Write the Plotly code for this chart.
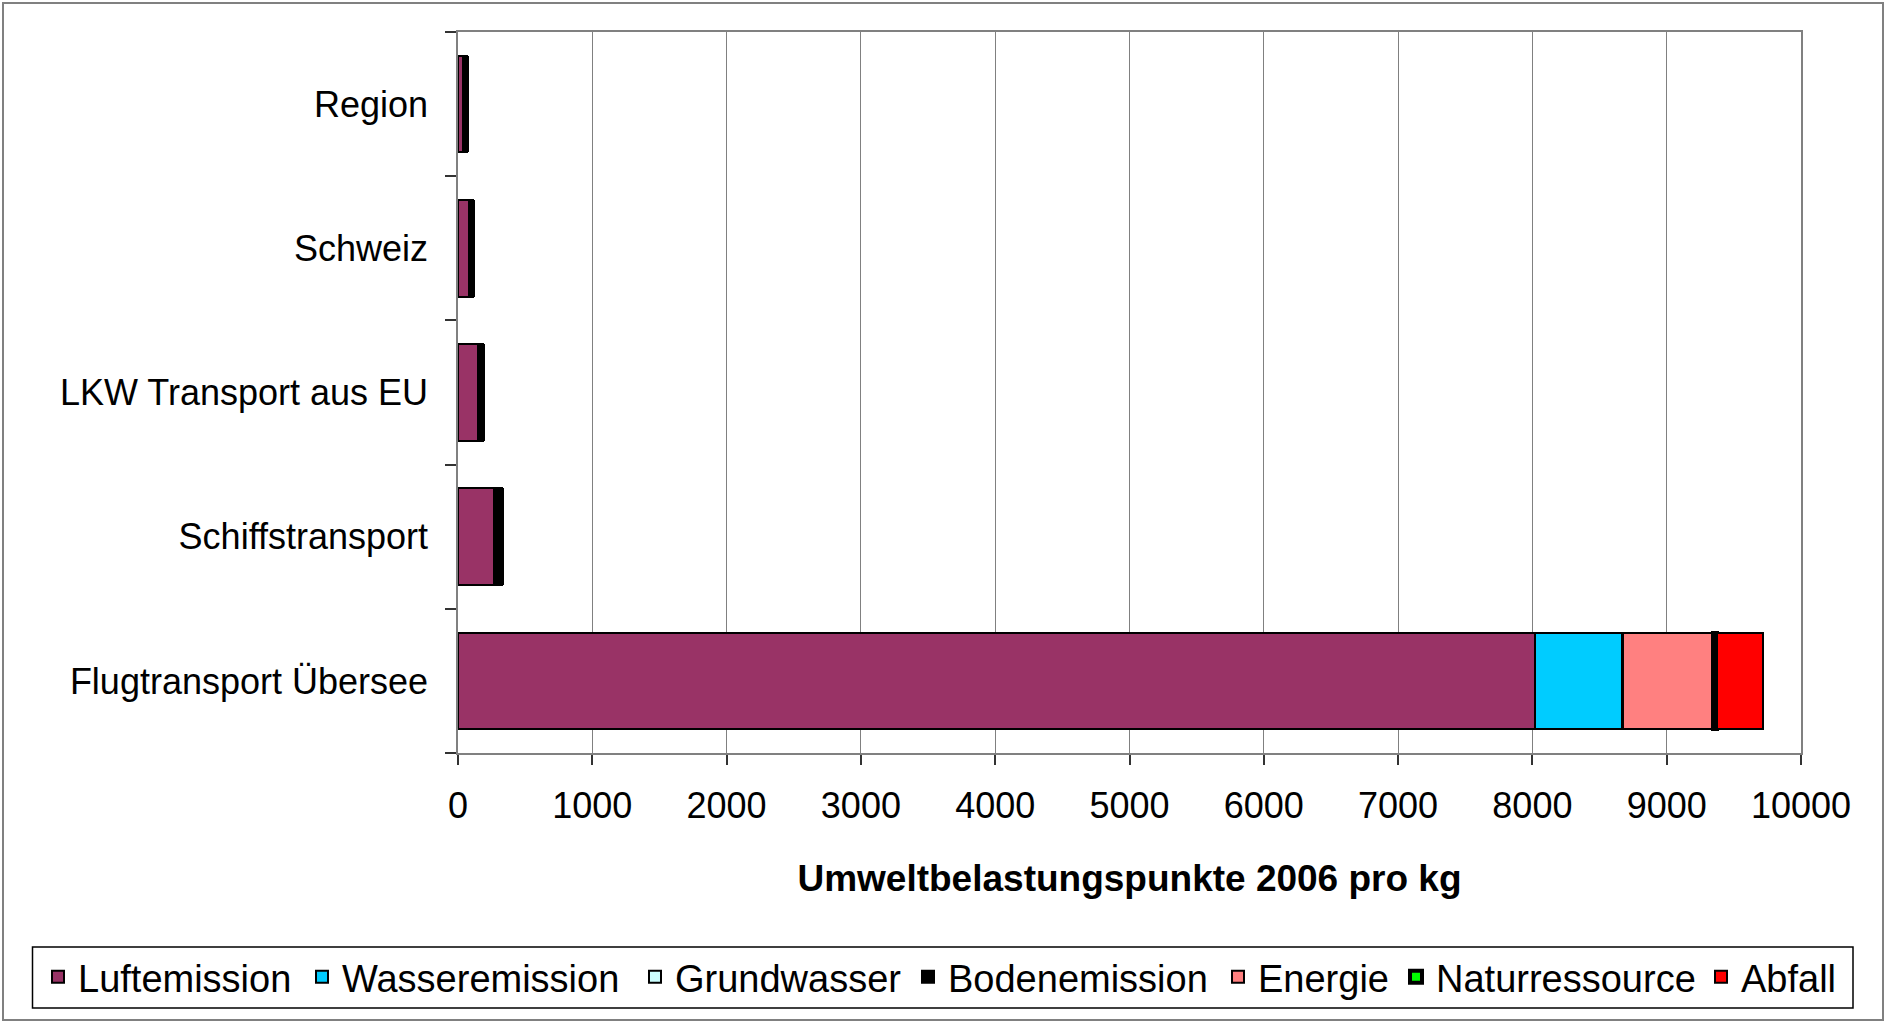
import plotly.graph_objects as go

categories = ["Flugtransport Übersee", "Schiffstransport", "LKW Transport aus EU", "Schweiz", "Region"]

luftemission = [8020, 270, 150, 80, 35]
wasseremission = [650, 0, 0, 0, 0]
grundwasser = [0, 0, 0, 0, 0]
bodenemission = [5, 55, 35, 35, 30]
energie = [670, 0, 0, 0, 0]
naturressource = [30, 0, 0, 0, 0]
abfall = [340, 0, 0, 0, 0]

series_names = ["Luftemission", "Wasseremission", "Grundwasser", "Bodenemission",
                "Energie", "Naturressource", "Abfall"]
series_values = [luftemission, wasseremission, grundwasser, bodenemission,
                 energie, naturressource, abfall]
series_colors = ["#993366", "#00CCFF", "#CCFFFF", "#000000", "#FF8080", "#00FF00", "#FF0000"]

x_ticks = [0, 1000, 2000, 3000, 4000, 5000, 6000, 7000, 8000, 9000, 10000]

FONT = "Liberation Sans, Arial, sans-serif"

W, H = 1887, 1024
L, T = 458, 32
pw, ph = 1343, 721
R = W - L - pw
B = H - T - ph

def px(p):
    return (p - L) / pw

def py(p):
    return (H - B - p) / ph

# left edge of the text of each legend entry (page pixels)
legend_text_x = [78, 342, 675, 948, 1258, 1436, 1741]

fig = go.Figure()
legend_layouts = {}
for i, (name, vals, col) in enumerate(zip(series_names, series_values, series_colors)):
    lw = [4 if name == "Naturressource" else 2 for _ in vals]
    lname = "legend" if i == 0 else f"legend{i + 1}"
    fig.add_trace(go.Bar(
        y=categories, x=vals, name=name, orientation="h",
        marker=dict(color=col, line=dict(color="#000000", width=lw)),
        legend=lname,
    ))
    legend_layouts[lname] = dict(
        orientation="h", x=px(legend_text_x[i] - 40), xanchor="left",
        y=py(977), yanchor="middle",
        font=dict(family=FONT, size=38, color="black"),
        bgcolor="rgba(0,0,0,0)", borderwidth=0,
    )

shapes = [
    dict(type="rect", xref="paper", yref="paper",
         x0=px(3), x1=px(1883), y0=py(1020), y1=py(3),
         line=dict(color="#808080", width=2), fillcolor="rgba(0,0,0,0)", layer="below"),
    dict(type="rect", xref="paper", yref="paper",
         x0=px(32.5), x1=px(1853), y0=py(1008), y1=py(947),
         line=dict(color="#000000", width=1.5), fillcolor="rgba(0,0,0,0)"),
]

fig.update_layout(
    width=W, height=H,
    margin=dict(l=L, r=R, t=T, b=B),
    paper_bgcolor="white", plot_bgcolor="white",
    barmode="stack", bargap=0.33,
    font=dict(family=FONT, size=36, color="black"),
    showlegend=True,
    shapes=shapes,
    xaxis=dict(
        range=[0, 10000], tickvals=x_ticks, ticktext=[str(v) for v in x_ticks],
        showgrid=True, gridcolor="#808080", gridwidth=1,
        showline=True, linecolor="#808080", linewidth=1.5, mirror=True,
        ticks="outside", ticklen=10, tickcolor="#333333", tickwidth=1.5,
        ticklabelstandoff=10, zeroline=False,
        tickfont=dict(family=FONT, size=36, color="black"),
        title=dict(text="<b>Umweltbelastungspunkte 2006 pro kg</b>", standoff=40,
                   font=dict(family=FONT, size=37, color="black")),
    ),
    yaxis=dict(
        type="category", categoryorder="array", categoryarray=categories,
        showline=True, linecolor="#808080", linewidth=1.5, mirror=True,
        ticks="outside", ticklen=11, tickcolor="#333333", tickwidth=1.5,
        tickson="boundaries", ticklabelstandoff=21, showgrid=False,
        tickfont=dict(family=FONT, size=36, color="black"),
    ),
    **legend_layouts,
)

fig.write_html("out.html",
               config={"displayModeBar": False},
               post_script="document.body.style.margin='0px';document.body.style.overflow='hidden';")
